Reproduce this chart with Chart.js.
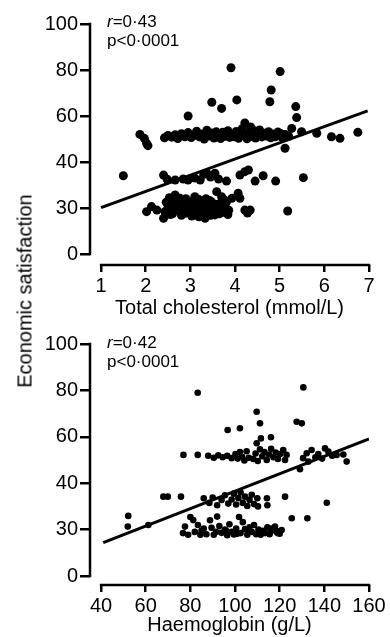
<!DOCTYPE html>
<html>
<head>
<meta charset="utf-8">
<script src="https://cdn.jsdelivr.net/npm/chart.js@4/dist/chart.umd.min.js"></script>
<style>
  body { margin: 0; background: #fff; width: 390px; height: 637px; position: relative; overflow: hidden;
         font-family: "Liberation Sans", Arial, sans-serif; color: #000; }
  #topChart { position: absolute; left: 0; top: 0; }
  #bottomChart { position: absolute; left: 0; top: 322px; }
  #yTitle { position: absolute; left: 25px; top: 291px; font-size: 20px; white-space: nowrap;
            transform: translate(-50%, -50%) rotate(-90deg); }
</style>
</head>
<body>
<canvas id="topChart" width="390" height="322"></canvas>
<canvas id="bottomChart" width="390" height="315"></canvas>
<div id="yTitle">Economic satisfaction</div>
<script>
// y axis: evenly spaced ticks, labelled as in the figure
const yTickValues = [0, 20, 40, 60, 80, 100];
const yTickLabels = ["0", "30", "40", "60", "80", "100"];

const cholesterolTicks = [1, 2, 3, 4, 5, 6, 7];
const haemoglobinTicks = [40, 60, 80, 100, 120, 140, 160];

// fitted lines (ends)
const cholesterolFit = [[1, 20.2], [6.97, 62.2]];
const haemoglobinFit = [[41, 14.4], [160, 59.1]];

// total cholesterol vs economic satisfaction
const cholesterolPoints = [
  // high outliers
  [3.91, 81.0], [5.01, 79.3], [4.81, 71.3], [4.78, 66.2], [3.48, 66.0], [3.70, 63.3], [4.04, 67.0],
  [2.95, 60.0], [5.36, 64.1], [5.38, 59.3],
  // band around 50
  [1.87, 52.0], [1.97, 50.3], [2.02, 48.1], [2.05, 47.1],
  [2.42, 50.5], [2.50, 51.5], [2.58, 50.8], [2.66, 51.9], [2.72, 50.2], [2.80, 52.3], [2.88, 51.0],
  [2.95, 52.8], [3.02, 50.6], [3.08, 51.6], [3.14, 53.4], [3.20, 50.9], [3.26, 52.2], [3.31, 50.0],
  [3.37, 53.8], [3.42, 51.3], [3.48, 52.6], [3.53, 50.4], [3.58, 53.1], [3.63, 51.7], [3.68, 50.2],
  [3.72, 52.9], [3.78, 51.2], [3.84, 53.6], [3.88, 50.7], [3.93, 52.1], [3.98, 51.0], [4.03, 53.3],
  [4.08, 50.3], [4.12, 52.4], [4.16, 54.5], [4.20, 51.4], [4.22, 57.0], [4.27, 50.1], [4.31, 52.8],
  [4.35, 55.2], [4.38, 51.1], [4.42, 53.7], [4.46, 50.4], [4.50, 52.0], [4.55, 53.9], [4.60, 50.9],
  [4.65, 52.5], [4.70, 51.3], [4.75, 53.2], [4.80, 50.5], [4.85, 52.2], [4.90, 51.0], [4.96, 53.0],
  [5.01, 52.5], [5.05, 50.8], [5.12, 52.0], [5.20, 51.2], [5.27, 54.6], [5.49, 53.2], [5.83, 52.5],
  [6.16, 51.0], [6.35, 50.3], [6.75, 52.9], [5.12, 46.0],
  // middle group
  [1.50, 34.0], [2.40, 34.3], [2.48, 32.5], [2.66, 32.2], [2.84, 32.6], [2.95, 32.2], [3.10, 33.0],
  [3.22, 32.2], [3.30, 34.6], [3.37, 35.1], [3.45, 33.5], [3.55, 35.1], [3.63, 32.6], [3.81, 31.7],
  [4.11, 34.3], [4.22, 35.8], [4.30, 36.5], [4.45, 31.7], [4.63, 34.0], [4.91, 31.7], [5.53, 33.2],
  // lower group
  [2.02, 18.4], [2.13, 20.6], [2.25, 19.1], [2.40, 15.5], [2.43, 18.4], [2.50, 20.2], [2.55, 17.2],
  [2.58, 22.7], [2.62, 19.8], [2.66, 25.7], [2.70, 21.5], [2.73, 19.1], [2.77, 24.2], [2.80, 16.8],
  [2.84, 22.0], [2.88, 17.7], [2.92, 22.0], [2.96, 19.6], [2.99, 22.7], [3.03, 16.5], [3.06, 20.4],
  [3.10, 24.9], [3.13, 18.0], [3.16, 21.2], [3.19, 16.2], [3.22, 18.4], [3.25, 22.3], [3.28, 19.5],
  [3.31, 17.1], [3.33, 15.5], [3.36, 21.0], [3.40, 18.8], [3.43, 23.3], [3.46, 16.8], [3.50, 20.1],
  [3.55, 17.0], [3.59, 27.1], [3.62, 19.4], [3.66, 22.0], [3.70, 24.9], [3.74, 18.2], [3.78, 20.6],
  [3.81, 22.7], [3.86, 19.0], [3.93, 24.2], [4.07, 26.4], [4.11, 24.2], [4.22, 19.1], [4.28, 17.8],
  [4.34, 19.1], [5.18, 18.7],
  [2.46, 22.5], [2.53, 24.5], [2.60, 17.5], [2.68, 23.8], [2.75, 21.0], [2.82, 19.5], [2.90, 24.0],
  [2.98, 17.8], [3.05, 23.0], [3.12, 21.8], [3.18, 23.8], [3.24, 17.0], [3.30, 21.5], [3.35, 24.0],
  [3.42, 20.5], [3.48, 22.5], [3.53, 18.5], [3.58, 21.5], [3.65, 17.5], [3.72, 21.0], [3.76, 23.5],
  [3.84, 17.2]
];

// haemoglobin vs economic satisfaction
const haemoglobinPoints = [
  // high outliers
  [83.3, 79.0], [130.6, 81.3], [109.7, 70.8], [111.2, 65.8], [127.6, 66.5], [129.9, 65.8], [96.7, 62.9],
  [102.2, 63.7], [116.1, 59.8], [111.6, 59.3], [109.7, 57.2],
  // band around 50
  [76.9, 52.2], [83.3, 52.2], [88.0, 51.8], [90.5, 51.0], [92.5, 52.0], [94.5, 51.2], [96.5, 51.8],
  [98.5, 50.8], [100.2, 52.6], [101.2, 50.6], [102.2, 53.4], [103.2, 51.4], [104.2, 49.8], [105.2, 53.8],
  [106.2, 51.0], [108.2, 50.4], [109.2, 52.8], [110.2, 49.6], [111.2, 54.6], [112.2, 51.6], [113.2, 53.4],
  [114.2, 50.0], [115.2, 52.4], [116.2, 54.8], [117.2, 51.2], [118.2, 53.2], [119.2, 50.4], [120.2, 52.6],
  [121.6, 54.3], [122.4, 50.0], [123.1, 52.2], [129.1, 46.0], [130.5, 50.8], [132.1, 52.9], [132.9, 49.3],
  [134.3, 54.3], [136.0, 51.2], [137.3, 52.6], [139.0, 50.6], [140.3, 55.0], [141.8, 53.6], [143.5, 51.8],
  [145.5, 52.2], [148.5, 52.4], [150.0, 49.3],
  // middle group
  [67.9, 34.2], [69.9, 34.2], [75.8, 34.2], [86.0, 33.5], [88.5, 31.5], [90.0, 33.8], [92.0, 30.5],
  [94.0, 32.8], [95.5, 34.8], [97.0, 31.2], [98.5, 33.0], [99.5, 35.5], [100.5, 30.8], [101.5, 33.6],
  [102.5, 36.0], [103.5, 31.5], [104.5, 34.2], [105.5, 30.2], [106.5, 32.8], [107.5, 35.0], [108.5, 31.0],
  [110.0, 33.5], [110.3, 30.0], [114.3, 33.5], [114.5, 30.5], [122.4, 34.2], [141.1, 31.6],
  // lower group
  [52.2, 25.9], [52.0, 21.3], [61.2, 22.0], [76.7, 18.5], [77.6, 21.3], [79.0, 17.8], [80.0, 25.4],
  [81.3, 24.1], [82.0, 19.0], [83.4, 22.0], [84.5, 17.8], [86.0, 20.5], [87.2, 18.0], [88.8, 24.0],
  [89.5, 20.8], [90.5, 17.8], [92.0, 25.6], [93.0, 21.5], [94.0, 18.6], [95.5, 20.0], [96.5, 17.6],
  [97.5, 22.3], [98.5, 19.0], [99.5, 17.9], [100.5, 20.5], [101.8, 25.4], [102.5, 18.5], [103.5, 23.2],
  [104.5, 20.2], [105.5, 17.8], [106.5, 21.0], [107.5, 19.0], [108.5, 22.0], [109.5, 18.0], [110.5, 20.0],
  [111.5, 17.8], [112.5, 19.5], [113.5, 18.5], [114.5, 21.0], [115.5, 18.0], [116.5, 19.5], [117.9, 21.3],
  [119.0, 18.5], [120.0, 18.2], [120.9, 19.8], [125.4, 24.9], [132.4, 24.9],
  [85.0, 19.5], [91.5, 19.0], [96.0, 19.5], [101.0, 18.2], [106.0, 19.0], [111.0, 19.2], [116.0, 20.5],
  [118.5, 19.5]
];

Chart.defaults.font.family = '"Liberation Sans", Arial, sans-serif';
Chart.defaults.color = "#000";

// axes in the figure are detached: draw them only over the tick range
const axisLines = {
  id: "axisLines",
  afterDraw(chart, args, opts) {
    const { ctx, chartArea, scales } = chart;
    const x = scales.x, y = scales.y;
    ctx.save();
    ctx.strokeStyle = "#000";
    ctx.lineWidth = 2.5;
    ctx.beginPath();
    ctx.moveTo(chartArea.left, y.getPixelForValue(0) + 1.2);
    ctx.lineTo(chartArea.left, y.getPixelForValue(100) - 1.2);
    ctx.moveTo(x.getPixelForValue(opts.from) - 1.2, chartArea.bottom);
    ctx.lineTo(x.getPixelForValue(opts.to) + 1.2, chartArea.bottom);
    ctx.stroke();

    // r and p values
    const left = chartArea.left + 17;
    ctx.fillStyle = "#000";
    ctx.textBaseline = "middle";
    ctx.font = 'italic 17px "Liberation Sans"';
    ctx.fillText("r", left, opts.rY);
    const w = ctx.measureText("r").width;
    ctx.font = '17px "Liberation Sans"';
    ctx.fillText("=" + opts.r, left + w, opts.rY);
    ctx.fillText("p<0\u00b70001", left, opts.rY + 19);
    ctx.restore();
  }
};

function makeChart(id, points, fit, xTicks, xTitle, opts) {
  return new Chart(document.getElementById(id), {
    type: "scatter",
    data: {
      datasets: [
        {
          data: points.map(p => ({ x: p[0], y: p[1] })),
          backgroundColor: "#000",
          borderWidth: 0,
          pointRadius: opts.radius
        },
        {
          data: fit.map(p => ({ x: p[0], y: p[1] })),
          showLine: true,
          borderColor: "#000",
          borderWidth: 3,
          pointRadius: 0
        }
      ]
    },
    options: {
      responsive: false,
      animation: false,
      layout: { padding: { top: opts.top, right: 21, left: 0, bottom: 0 } },
      plugins: {
        legend: { display: false },
        tooltip: { enabled: false },
        axisLines: { from: xTicks[0], to: xTicks[xTicks.length - 1], r: opts.r, rY: opts.rY }
      },
      scales: {
        x: {
          type: "linear",
          min: opts.xMin,
          max: xTicks[xTicks.length - 1],
          afterBuildTicks: s => { s.ticks = xTicks.map(v => ({ value: v })); },
          afterFit: s => { s.height = opts.xHeight; },
          border: { display: false },
          grid: { drawOnChartArea: false, color: "#000", lineWidth: 2.5, tickLength: 7 },
          ticks: { font: { size: 20 }, padding: 2, maxRotation: 0, autoSkip: false },
          title: { display: true, text: xTitle, font: { size: 20 }, padding: { top: 0, bottom: opts.titlePad } }
        },
        y: {
          type: "linear",
          min: opts.yMin,
          max: 100,
          afterBuildTicks: s => { s.ticks = yTickValues.map(v => ({ value: v })); },
          afterFit: s => { s.width = 90; },
          border: { display: false },
          grid: { drawOnChartArea: false, color: "#000", lineWidth: 2.5, tickLength: 10 },
          ticks: {
            font: { size: 20 },
            padding: 2,
            callback: v => yTickLabels[yTickValues.indexOf(v)]
          }
        }
      }
    },
    plugins: [axisLines]
  });
}

makeChart("topChart", cholesterolPoints, cholesterolFit, cholesterolTicks, "Total cholesterol (mmol/L)",
  { radius: 4.5, top: 24, xMin: 0.753, yMin: -4.78, xHeight: 57, titlePad: 2, r: "0\u00b743", rY: 22 });

makeChart("bottomChart", haemoglobinPoints, haemoglobinFit, haemoglobinTicks, "Haemoglobin (g/L)",
  { radius: 3.3, top: 22, xMin: 35.07, yMin: -3.88, xHeight: 52, titlePad: 0, r: "0\u00b742", rY: 21 });
</script>
</body>
</html>
